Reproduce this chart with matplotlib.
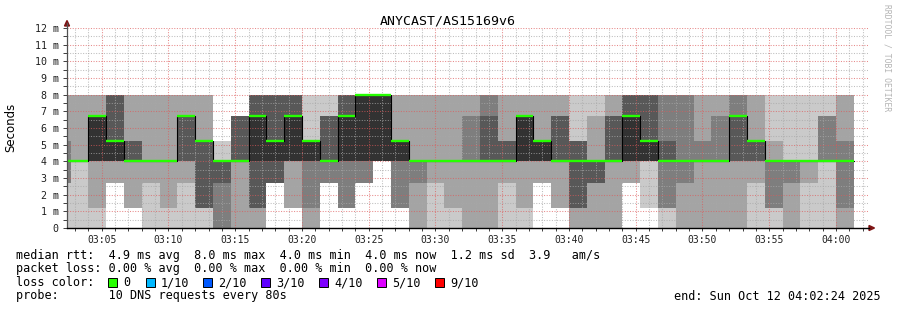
import numpy as np
import matplotlib.pyplot as plt
from matplotlib.patches import Rectangle, Polygon

plt.rcParams["font.family"] = "DejaVu Sans Mono"

# time axis in minutes after 03:00, rrd step is 80 s
# first column is the tail of the bin that started at 03:01:20
t_start, t_end = 2.4, 62.4
step = 80 / 60
first_edge = 2 + 2 / 3
n_full = 44

# sorted ping ranks per bin (ms), bin 0 is the partial one
p01 = [0, 0, 0, 2.7, 1.2, 0, 0, 0, 0, 0, 0, 0, 2.7, 1.2, 0,
       2.7, 1.2, 2.7, 4, 1.2, 0, 0, 0, 0, 0, 0, 0, 2.7, 1.2, 0,
       0, 0, 2.7, 1.2, 0, 0, 0, 0, 0, 0, 0, 0, 0, 0, 0]
p02 = [2.7, 4, 1.2, 2.7, 1.2, 2.7, 1.2, 2.7, 1.2, 0, 0, 0, 2.7, 1.2, 0,
       2.7, 1.2, 2.7, 4, 1.2, 0, 2.7, 1.2, 0, 0, 2.7, 1.2, 2.7, 1.2, 0,
       0, 0, 2.7, 4, 1.2, 0, 0, 0, 0, 2.7, 1.2, 0, 2.7, 4, 0]
p03 = [2.7, 4, 4, 4, 4, 4, 4, 4, 1.2, 0, 4, 1.2, 2.7, 4, 1.2,
       2.7, 1.2, 2.7, 4, 1.2, 2.7, 4, 4, 4, 4, 4, 4, 4, 4, 1.2,
       2.7, 4, 4, 4, 1.2, 2.7, 4, 4, 4, 4, 1.2, 2.7, 4, 4, 1.2]
p04 = [4, 4, 4, 4, 4, 4, 4, 4, 1.2, 2.7, 4, 1.2, 2.7, 4, 4,
       4, 4, 4, 4, 4, 4, 4, 4, 4, 4, 4, 4, 4, 4, 1.2,
       2.7, 4, 4, 4, 4, 4, 4, 4, 4, 4, 4, 4, 4, 4, 4]
p05 = [4, 4, 4, 4, 4, 4, 4, 6.7, 5.2, 4, 4, 4, 4, 4, 4,
       4, 4, 4, 4, 4, 4, 4, 4, 4, 4, 4, 4, 4, 4, 4,
       4, 4, 4, 4, 4, 4, 4, 4, 6.7, 5.2, 4, 4, 4, 4, 4]
p06 = [4, 4, 6.7, 5.2, 4, 4, 4, 6.7, 5.2, 4, 4, 6.7, 5.2, 6.7, 5.2,
       4, 6.7, 8, 8, 5.2, 4, 4, 4, 4, 4, 4, 6.7, 5.2, 4, 4,
       4, 4, 6.7, 5.2, 4, 4, 4, 4, 6.7, 5.2, 4, 4, 4, 4, 4]
p07 = [4, 4, 6.7, 8, 5.2, 4, 4, 6.7, 5.2, 4, 6.7, 8, 8, 8, 5.2,
       6.7, 8, 8, 8, 5.2, 4, 4, 4, 4, 6.7, 5.2, 6.7, 5.2, 6.7, 5.2,
       4, 6.7, 8, 8, 5.2, 4, 4, 4, 6.7, 5.2, 4, 4, 4, 4, 4]
p08 = [5.2, 4, 6.7, 8, 5.2, 4, 4, 6.7, 5.2, 4, 6.7, 8, 8, 8, 5.2,
       6.7, 8, 8, 8, 5.2, 4, 4, 4, 6.7, 8, 5.2, 6.7, 5.2, 6.7, 5.2,
       4, 6.7, 8, 8, 8, 8, 5.2, 6.7, 8, 5.2, 4, 4, 4, 6.7, 5.2]
p09 = [8, 8, 8, 8, 8, 8, 8, 8, 8, 4, 6.7, 8, 8, 8, 5.2,
       6.7, 8, 8, 8, 8, 8, 8, 8, 8, 8, 8, 8, 8, 8, 5.2,
       6.7, 8, 8, 8, 8, 8, 8, 8, 8, 8, 5.2, 4, 4, 6.7, 8]
p10 = [8, 8, 8, 8, 8, 8, 8, 8, 8, 5.2, 6.7, 8, 8, 8, 8,
       8, 8, 8, 8, 8, 8, 8, 8, 8, 8, 8, 8, 8, 8, 8,
       8, 8, 8, 8, 8, 8, 8, 8, 8, 8, 8, 8, 8, 8, 8]
median = p06

tick_min = [5, 10, 15, 20, 25, 30, 35, 40, 45, 50, 55, 60]
tick_lbl = ["03:05", "03:10", "03:15", "03:20", "03:25", "03:30",
            "03:35", "03:40", "03:45", "03:50", "03:55", "04:00"]

smoke_colors = ["#cacaca", "#a4a4a4", "#7e7e7e", "#585858", "#323232"]
loss_labels = ["0", "1/10", "2/10", "3/10", "4/10", "5/10", "9/10"]
loss_colors = ["#26ff00", "#00b8ff", "#0059ff", "#5e00ff", "#7e00ff", "#dd00ff", "#ff0000"]

W, H = 897, 310
fig = plt.figure(figsize=(W / 100, H / 100), dpi=100)
ax = fig.add_axes([67 / W, 82 / H, 801 / W, 200 / H])

edges = np.concatenate([[t_start], first_edge + step * np.arange(n_full + 1)])
pings = [np.array(p, float) for p in (p01, p02, p03, p04, p05, p06, p07, p08, p09, p10)]
for i, col in enumerate(smoke_colors):
    lo = np.append(pings[i], pings[i][-1])
    hi = np.append(pings[9 - i], pings[9 - i][-1])
    ax.fill_between(edges, lo, hi, step="post", color=col, lw=0, zorder=1)

med = np.array(median, float)
ax.plot(edges, np.append(med, med[-1]), drawstyle="steps-post", color="black", lw=0.8, zorder=4)
ax.hlines(med, edges[:-1], edges[1:], color="#26ff00", lw=1.7, zorder=5)

ax.set_xlim(t_start, t_end)
ax.set_ylim(0, 12)
ax.set_xticks(tick_min)
ax.set_xticklabels(tick_lbl)
ax.set_xticks(np.arange(3, 63), minor=True)
ax.set_yticks(range(13))
ax.set_yticklabels(["0"] + [f"{v} m" for v in range(1, 13)])
ax.set_yticks(np.arange(0.5, 12, 1), minor=True)
ax.set_axisbelow(False)
ax.grid(which="minor", color="#a8a8a8", alpha=0.75, lw=0.75, ls=(0, (1, 1.5)))
ax.grid(which="major", color="#dd5a5a", alpha=0.7, lw=0.75, ls=(0, (1, 1.5)))
ax.tick_params(axis="x", which="both", direction="out", length=2, width=0.6, pad=3,
               labelsize=7, colors="#202020")
ax.tick_params(axis="y", which="both", direction="out", length=3, width=0.6, pad=3,
               labelsize=7.2, colors="#202020")
for s in ("top", "right", "left", "bottom"):
    ax.spines[s].set_visible(False)

# overlay in pixel coordinates for the rrdtool furniture
ov = fig.add_axes([0, 0, 1, 1])
ov.set_xlim(0, W)
ov.set_ylim(H, 0)
ov.axis("off")
ov.plot([67, 67], [228, 23], color="#505050", lw=0.9)
ov.plot([67, 869], [228, 228], color="black", lw=1.0)
ov.add_patch(Polygon([(64.5, 26), (69.5, 26), (67, 20.5)], closed=True, color="#7f1414"))
ov.add_patch(Polygon([(869, 225.5), (869, 230.5), (874.5, 228)], closed=True, color="#7f1414"))

ov.text(448, 24.5, "ANYCAST/AS15169v6", ha="center", va="baseline", fontsize=9.5, color="black")
ov.text(11, 127, "Seconds", rotation=90, ha="center", va="center", fontsize=8.5,
        family="DejaVu Sans", color="black")
ov.text(887, 4, "RRDTOOL / TOBI OETIKER", rotation=270, ha="center", va="top",
        fontsize=5.8, color="#b4b4b4")

fs = 8.5
ov.text(16, 258.5, "median rtt:  4.9 ms avg  8.0 ms max  4.0 ms min  4.0 ms now  1.2 ms sd  3.9   am/s",
        va="baseline", fontsize=fs)
ov.text(16, 272, "packet loss: 0.00 % avg  0.00 % max  0.00 % min  0.00 % now",
        va="baseline", fontsize=fs)
ov.text(16, 286, "loss color:", va="baseline", fontsize=fs)
box_x = [108, 146, 203, 261, 319, 377, 435]
for bx, lbl, col in zip(box_x, loss_labels, loss_colors):
    ov.add_patch(Rectangle((bx, 278), 9, 9, facecolor=col, edgecolor="black", lw=0.7))
    ov.text(bx + 15, 286, lbl, va="baseline", fontsize=fs)
ov.text(16, 299.5, "probe:       10 DNS requests every 80s", va="baseline", fontsize=fs)
ov.text(881, 299.5, "end: Sun Oct 12 04:02:24 2025", ha="right", va="baseline", fontsize=fs)

fig.savefig("out.png", dpi=100)
